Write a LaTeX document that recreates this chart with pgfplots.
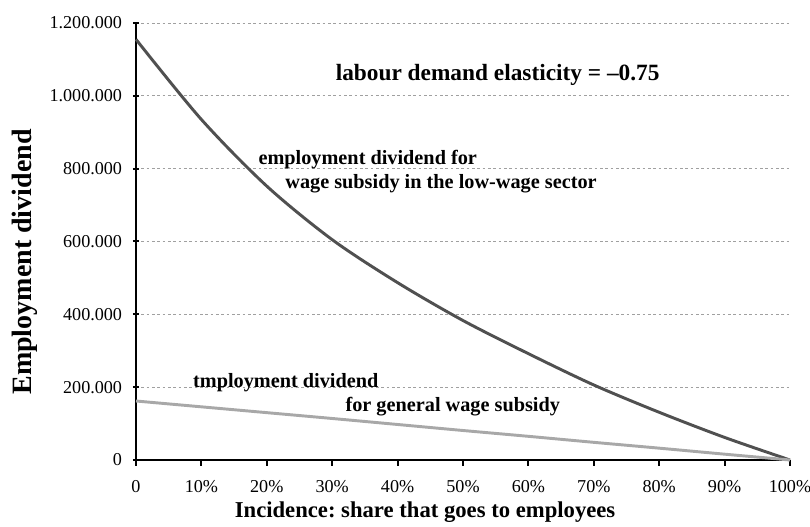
\documentclass[border=0pt]{standalone}
\usepackage{pgfplots}
\pgfplotsset{compat=1.18}
\usepackage{fontspec}
\setmainfont{Liberation Serif}
\frenchspacing
\definecolor{darkcurve}{HTML}{505050}
\definecolor{lightcurve}{HTML}{A8A8A8}
\definecolor{gridgray}{HTML}{A0A0A0}

\begin{document}
\begin{tikzpicture}
\begin{axis}[name=ax,
    scale only axis, width=490.5pt, height=327.75pt,
    xmin=0, xmax=1, ymin=0, ymax=1200000,
    axis x line*=bottom, axis y line*=left,
    axis line style={line width=1.8pt, black},
    xtick={0,0.1,...,1.0001},
    xticklabels={0,10\%,20\%,30\%,40\%,50\%,60\%,70\%,80\%,90\%,100\%},
    ytick={0,200000,...,1200000},
    scaled y ticks=false,
    /pgf/number format/.cd, 1000 sep={.}, fixed, precision=0, assume math mode=true,
    /pgfplots/.cd,
    major tick length=4.5pt,
    xtick align=outside, ytick align=center,
    tick style={line width=1.5pt, black},
    ticklabel style={font=\fontsize{13.6}{15}\selectfont},
    xticklabel style={anchor=north, inner sep=0pt},
    yticklabel style={anchor=east, inner sep=0pt},
    xticklabel shift=10.5pt, yticklabel shift=8pt,
    ymajorgrids, xmajorgrids=false,
    major grid style={gridgray, line width=0.7pt, dash pattern=on 2pt off 2pt},
    clip=false,
    xlabel={Incidence: share that goes to employees},
    ylabel={Employment dividend},
    every axis x label/.style={at={(rel axis cs:0.442,-0.119)}, anchor=center, font=\bfseries\fontsize{17}{20}\selectfont},
    every axis y label/.style={at={(rel axis cs:-0.170,0.453)}, anchor=center, rotate=90, font=\bfseries\fontsize{21}{24}\selectfont},
]
\addplot[darkcurve, line width=2.2pt, smooth] coordinates {
  (0,1155000) (0.1,935000) (0.2,752000) (0.3,605000) (0.4,487000)
  (0.5,383000) (0.6,292000) (0.7,206000) (0.8,131000) (0.9,62000) (1,0)
};
\addplot[lightcurve, line width=2.2pt, smooth] coordinates {
  (0,162000) (0.1,146000) (0.2,130000) (0.3,114000) (0.4,97500)
  (0.5,81000) (0.6,65000) (0.7,48500) (0.8,32500) (0.9,16000) (1,0)
};
\node[font=\bfseries\fontsize{17.5}{20}\selectfont, anchor=center] at (axis cs:0.553,1057700) {labour demand elasticity = --0.75};
\node[font=\bfseries\fontsize{15.2}{18}\selectfont, anchor=west, inner sep=0pt] at (axis cs:0.187,826000) {employment dividend for};
\node[font=\bfseries\fontsize{15.2}{18}\selectfont, anchor=west, inner sep=0pt] at (axis cs:0.228,758000) {wage subsidy in the low-wage sector};
\node[font=\bfseries\fontsize{15.2}{18}\selectfont, anchor=west, inner sep=0pt] at (axis cs:0.087,212000) {tmployment dividend};
\node[font=\bfseries\fontsize{15.2}{18}\selectfont, anchor=west, inner sep=0pt] at (axis cs:0.320,146000) {for general wage subsidy};
\end{axis}
\pgfresetboundingbox
\path[use as bounding box] ([xshift=-102pt, yshift=-50.25pt]ax.south west) rectangle ([xshift=15pt, yshift=17.25pt]ax.north east);
\end{tikzpicture}
\end{document}
